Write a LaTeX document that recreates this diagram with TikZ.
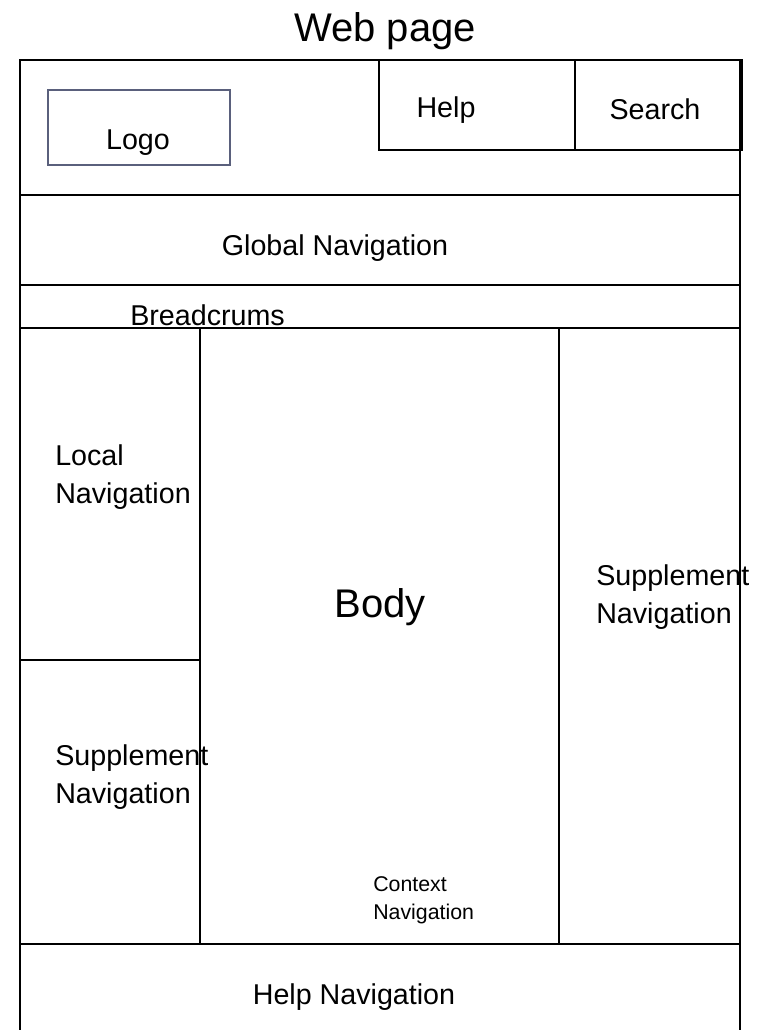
\documentclass[tikz,border=0pt]{standalone}
\usepackage{fontspec}
\setmainfont{Liberation Sans}
\usepackage{tikz}
\definecolor{logoframe}{RGB}{90,96,124}
\tikzstyle{region}=[draw, line width=1.7pt]
\tikzstyle{logo box}=[draw=logoframe, line width=1.2pt]
\tikzstyle{caption}=[inner sep=0pt, font=\fontsize{21.5}{28}\selectfont]
\tikzstyle{block caption}=[caption, align=left, anchor=west]
\tikzstyle{small caption}=[inner sep=0pt, align=left, anchor=west, font=\fontsize{16}{21}\selectfont]
\tikzstyle{big caption}=[inner sep=0pt, font=\fontsize{30}{36}\selectfont]

\begin{document}
\begin{tikzpicture}[x=0.75pt, y=-0.75pt]
\useasboundingbox (0,0) rectangle (767,1030);
\clip (0,0) rectangle (767,1030);
% frame of the page
\draw[region] (20,1040) -- (20,60) -- (740,60) -- (740,1040);

% horizontal bands
\foreach \y in {195, 285, 328, 944}
\draw[region] (20,\y) -- (740,\y);

% columns of the main part
\foreach \x in {200, 559}
\draw[region] (\x,328) -- (\x,944);
\draw[region] (20,660) -- (200,660);

% help and search boxes
\draw[region] (379,60) rectangle (742,150);
\draw[region] (575,60) -- (575,150);

% logo
\draw[logo box] (48,90) rectangle (230,165);

% texts
\node[big caption] (title) at (385,31) {Web page};
\node[caption] (logo) at (138,143) {Logo};
\node[caption] (help) at (446,110) {Help};
\node[caption] (search) at (655,109) {Search};
\node[caption] (global) at (335,248) {Global Navigation};
\node[block caption] (crumbs) at (130,315) {Breadcrums};
\node[block caption] (local) at (55,477) {Local\\Navigation};
\node[big caption] (body) at (380,607) {Body};
\node[block caption] (suppright) at (596,597) {Supplement\\Navigation};
\node[block caption] (suppleft) at (55,777) {Supplement\\Navigation};
\node[small caption] (context) at (373,900) {Context\\Navigation};
\node[caption] (helpnav) at (354,997) {Help Navigation};

\end{tikzpicture}
\end{document}
